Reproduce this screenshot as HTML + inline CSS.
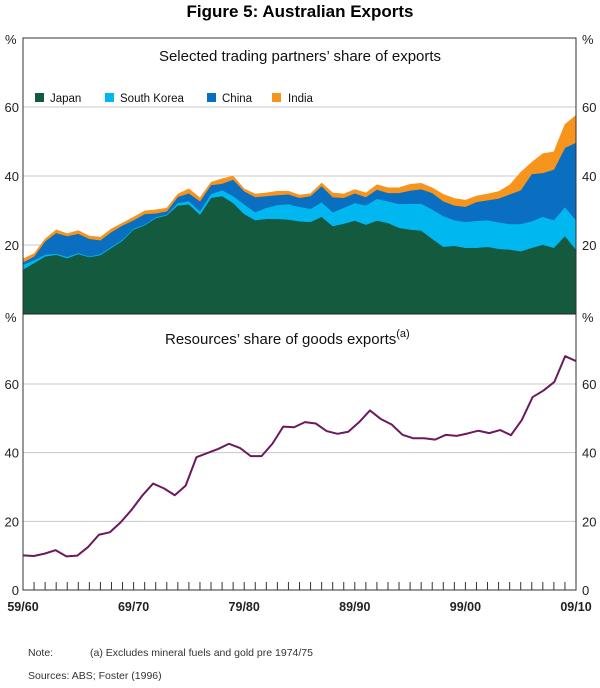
<!DOCTYPE html>
<html><head><meta charset="utf-8"><style>
body{margin:0;background:#fff;}
svg text{font-family:"Liberation Sans",Arial,sans-serif;}
</style></head><body>
<svg id="chart" width="600" height="683" viewBox="0 0 600 683" xmlns="http://www.w3.org/2000/svg">
<text x="300" y="17" text-anchor="middle" font-size="17" font-weight="bold" fill="#000">Figure 5: Australian Exports</text>
<g id="topPanel"></g>
<g id="botPanel"></g>
<rect x="23" y="38" width="553" height="552" fill="none" stroke="#333" stroke-width="1"/>
<line x1="23" y1="314" x2="576" y2="314" stroke="#222" stroke-width="1"/>
<text x="300" y="61" text-anchor="middle" font-size="15" fill="#111">Selected trading partners’ share of exports</text>
<text x="165" y="344" font-size="15" fill="#111">Resources’ share of goods exports<tspan dy="-7" font-size="11">(a)</tspan></text>
<g>
<rect x="35" y="93" width="9" height="9" fill="#135a3e"/>
<text x="50" y="102" font-size="11.5" fill="#111">Japan</text>
<rect x="105" y="93" width="9" height="9" fill="#00b7f0"/>
<text x="120" y="102" font-size="11.5" fill="#111">South Korea</text>
<rect x="207" y="93" width="9" height="9" fill="#0a6fc0"/>
<text x="222" y="102" font-size="11.5" fill="#111">China</text>
<rect x="272" y="93" width="9" height="9" fill="#f7941d"/>
<text x="288" y="102" font-size="11.5" fill="#111">India</text>
</g>
<text x="28" y="656" font-size="10.5" fill="#333">Note:</text>
<text x="90" y="656" font-size="10.5" fill="#333">(a) Excludes mineral fuels and gold pre 1974/75</text>
<text x="28" y="679" font-size="10.5" fill="#333">Sources:  ABS; Foster (1996)</text>
</svg>
<script>
const xLabels = ["59/60","69/70","79/80","89/90","99/00","09/10"];
const yTicks = [0,20,40,60];
const japan = [12.9,14.8,16.7,17.2,16.2,17.4,16.5,17.1,19.2,21.3,24.5,25.7,27.8,28.6,31.5,31.8,28.8,33.7,34.2,32.2,29.0,27.2,27.6,27.6,27.4,26.9,26.7,28.2,25.5,26.2,27.1,25.9,27.1,26.4,25.0,24.5,24.2,21.8,19.5,19.8,19.2,19.2,19.5,18.9,18.7,18.2,19.2,20.1,19.2,22.6,18.7];
const korea = [1.4,0.8,0.5,0.3,0.4,0.3,0.2,0.3,0.3,0.3,0.3,0.2,0.3,0.2,0.7,0.9,1.0,1.1,1.7,2.0,2.8,2.3,3.2,4.0,4.4,4.2,3.8,4.2,4.0,4.6,5.1,5.6,6.3,6.3,6.9,7.5,7.8,8.5,8.9,7.4,7.5,7.8,7.7,7.7,7.4,7.9,7.7,8.1,8.0,8.4,8.5];
const china = [0.7,1.1,3.9,6.0,6.0,5.6,5.1,4.0,4.3,4.1,2.4,3.1,1.1,1.0,1.8,2.3,2.9,2.6,1.9,4.8,3.8,4.4,3.4,2.9,2.9,2.6,3.7,4.7,4.4,2.9,2.8,2.4,2.7,2.4,3.2,3.8,4.2,4.8,4.3,4.3,4.4,5.5,5.8,6.9,8.6,9.8,13.7,12.7,14.7,17.2,22.5];
const india = [1.0,0.8,0.7,0.9,0.7,0.9,0.8,0.9,0.9,0.7,0.9,0.9,1.0,0.9,0.8,1.3,1.0,0.8,1.4,1.0,0.7,0.9,0.9,1.1,0.9,0.8,0.7,0.9,1.2,1.1,1.1,1.2,1.4,1.5,1.5,1.8,1.7,1.5,2.0,2.0,1.9,1.7,1.8,2.0,2.7,5.2,3.4,5.6,5.1,6.8,7.9];
const resources = [10.1,9.9,10.6,11.6,9.8,10.0,12.5,16.1,16.8,19.7,23.3,27.5,31.0,29.6,27.6,30.4,38.7,39.9,41.1,42.6,41.4,39.0,39.0,42.6,47.6,47.4,48.9,48.5,46.3,45.5,46.1,48.9,52.3,49.8,48.2,45.2,44.2,44.2,43.8,45.2,44.9,45.6,46.4,45.7,46.6,45.1,49.5,56.2,58.1,60.6,68.1,66.7];
</script>
<script>
(function(){
const NS="http://www.w3.org/2000/svg";
const X0=23,X1=576,NY=50;
function x(i){return X0+(X1-X0)*i/NY;}
function yTop(v){return 314-(314-38)*v/80;}
function yBot(v){return 590-(590-314)*v/80.4;}
function mk(tag,attrs,parent){const e=document.createElementNS(NS,tag);for(const k in attrs)e.setAttribute(k,attrs[k]);parent.appendChild(e);return e;}
const topG=document.getElementById('topPanel'),botG=document.getElementById('botPanel');
yTicks.forEach(function(t){
  if(t>0){
    let g1=mk('line',{x1:X0,x2:X1,y1:yTop(t),y2:yTop(t),stroke:'#c8c8c8','stroke-width':1},topG);
    
    
    let g2=mk('line',{x1:X0,x2:X1,y1:yBot(t),y2:yBot(t),stroke:'#c8c8c8','stroke-width':1},botG);
    
    
    [[19,'end'],[582,'start']].forEach(function(s){
      let tl=mk('text',{x:s[0],y:yTop(t)+5,'text-anchor':s[1],'font-size':13,fill:'#222'},topG);
      tl.textContent=t;
      
      
    });
  }
  [[19,'end'],[582,'start']].forEach(function(s){
    let bl=mk('text',{x:s[0],y:yBot(t)+5,'text-anchor':s[1],'font-size':13,fill:'#222'},botG);
    bl.textContent=t;
    
    
  });
});
[[5,44],[582,44],[5,322],[582,322]].forEach(function(p,k){
  let pc=mk('text',{x:p[0],y:p[1],'font-size':13,fill:'#222'},k<2?topG:botG);
  pc.textContent='%';
  
  
});
const series=[[japan,'#135a3e','japan'],[korea,'#00b7f0','south-korea'],[china,'#0a6fc0','china'],[india,'#f7941d','india']];
let base=japan.map(function(){return 0;});
series.forEach(function(s){
  const vals=s[0];
  const topv=base.map(function(b,i){return b+vals[i];});
  let d='M'+x(0)+','+yTop(topv[0]);
  for(let i=1;i<topv.length;i++)d+='L'+x(i)+','+yTop(topv[i]);
  for(let i=base.length-1;i>=0;i--)d+='L'+x(i)+','+yTop(base[i]);
  d+='Z';
  let a=mk('path',{d:d,fill:s[1],stroke:s[1],'stroke-width':0.5},topG);
  
  
  base=topv;
});
let pts=resources.map(function(v,i){return x(i*NY/(resources.length-1))+','+yBot(v);}).join(' ');
let ln=mk('polyline',{points:pts,fill:'none',stroke:'#6b1a5e','stroke-width':2,'stroke-linejoin':'round'},botG);


for(let i=0;i<=NY;i++){
  let tk=mk('line',{x1:x(i),x2:x(i),y1:590,y2:582,stroke:'#333','stroke-width':1},botG);
  
  
}
xLabels.forEach(function(l,k){
  let xl=mk('text',{x:x(k*10),y:611,'text-anchor':'middle','font-size':12.5,'font-weight':'bold',fill:'#222'},botG);
  xl.textContent=l;
  
  
});
})();
</script>
</body></html>
